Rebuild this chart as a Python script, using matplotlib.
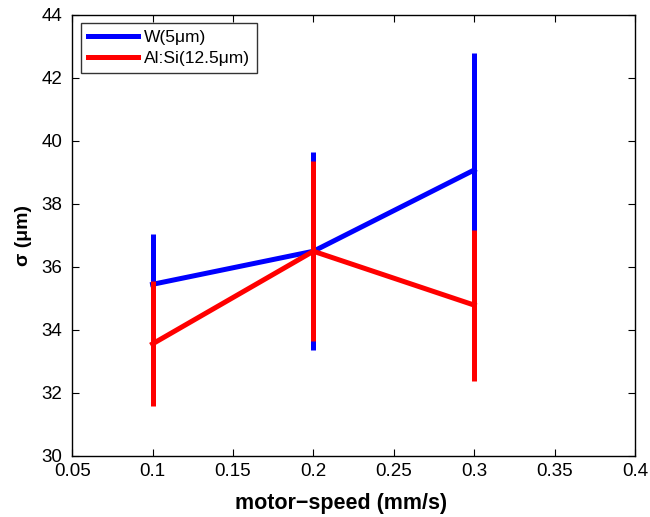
import matplotlib
matplotlib.use('Agg')
import matplotlib.pyplot as plt

plt.rcParams['font.family'] = ['Liberation Sans', 'DejaVu Sans']

speed = [0.1, 0.2, 0.3]
w_sigma = [35.45, 36.5, 39.08]
w_err = [1.6, 3.15, 3.7]
alsi_sigma = [33.56, 36.5, 34.79]
alsi_err = [1.98, 2.85, 2.4]

fig = plt.figure(figsize=(6.5, 5.17), dpi=100)
ax = fig.add_axes([0.111, 0.118, 0.866, 0.853])

ax.plot(speed, w_sigma, color=(0, 0, 1), lw=3.6, label='W(5\u03bcm)')
ax.errorbar(speed, w_sigma, yerr=w_err, fmt='none', ecolor=(0, 0, 1), elinewidth=3.6, capsize=0)
ax.plot(speed, alsi_sigma, color=(1, 0, 0), lw=3.6, label='Al:Si(12.5\u03bcm)')
ax.errorbar(speed, alsi_sigma, yerr=alsi_err, fmt='none', ecolor=(1, 0, 0), elinewidth=3.6, capsize=0)

ax.set_xlim(0.05, 0.4)
ax.set_ylim(30, 44)
ax.set_xticks([0.05, 0.1, 0.15, 0.2, 0.25, 0.3, 0.35, 0.4])
ax.set_xticklabels(['0.05', '0.1', '0.15', '0.2', '0.25', '0.3', '0.35', '0.4'])
ax.set_yticks(range(30, 45, 2))
ax.tick_params(direction='in', top=True, right=True, labelsize=13.5, length=5, width=0.8)
ax.tick_params(axis='x', pad=5)
ax.tick_params(axis='y', pad=7)
for s in ax.spines.values():
    s.set_linewidth(1.0)

ax.set_xlabel('motor\u2212speed (mm/s)', fontsize=15.5, fontweight='bold')
ax.xaxis.set_label_coords(0.478, -0.085)
ax.set_ylabel('\u03c3 (\u03bcm)', fontsize=14, fontweight='bold', labelpad=7)

leg = ax.legend(loc='upper left', fontsize=12.5, frameon=True, fancybox=False,
                edgecolor='black', handlelength=2.9, handletextpad=0.3,
                borderpad=0.4, borderaxespad=0, labelspacing=0.35,
                bbox_to_anchor=(0.016, 0.982))
leg.get_frame().set_linewidth(1.0)

fig.savefig('out.png', dpi=100)
